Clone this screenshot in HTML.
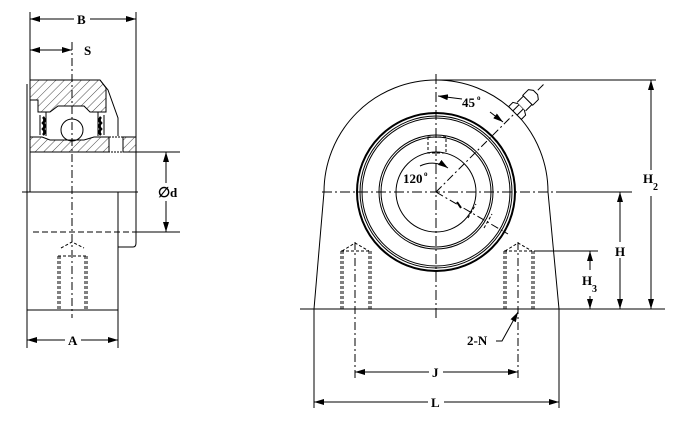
<!DOCTYPE html>
<html><head><style>html,body{margin:0;padding:0;background:#fff}svg{display:block}text{font-family:"Liberation Serif",serif;font-weight:bold;fill:#000}</style></head>
<body>
<svg width="678" height="429" viewBox="0 0 678 429" xmlns="http://www.w3.org/2000/svg">
<defs>
<pattern id="h" width="6" height="6" patternUnits="userSpaceOnUse" patternTransform="rotate(45)"><line x1="0" y1="0" x2="0" y2="6" stroke="#000" stroke-width="0.7"/></pattern>
<marker id="a" viewBox="0 0 10 6" refX="10" refY="3" markerWidth="10" markerHeight="6" orient="auto-start-reverse" markerUnits="userSpaceOnUse"><path d="M0,0L10,3L0,6z" fill="#000"/></marker>
</defs>
<g fill="none" stroke="#000" stroke-width="1">
<!-- LEFT VIEW -->
<line x1="30" y1="12" x2="30" y2="192"/>
<line x1="136" y1="12" x2="136" y2="240"/>
<line x1="30" y1="19" x2="136" y2="19" marker-start="url(#a)" marker-end="url(#a)"/>
<line x1="30" y1="50" x2="72" y2="50" marker-start="url(#a)" marker-end="url(#a)"/>
<line x1="72" y1="42" x2="72" y2="318" stroke-dasharray="8,3,2,3"/>
<path d="M30,80 L100,80 L106,88 L106,112 L90,112 L84,106 L58,106 L50,112 L38,112 L38,100 L30,100 Z" fill="url(#h)"/>
<path d="M100,80 L108,90 L118,118 L118,136"/>
<path d="M30,137 L42,137 L50,140 L60,140 L84,140 L94,137 L109,137 L109,152 L30,152 Z" fill="url(#h)"/>
<path d="M123,137 L136,137 L136,152 L123,152 Z" fill="url(#h)"/>
<rect x="109" y="137" width="14" height="15" stroke-dasharray="2,1"/>
<circle cx="72" cy="130" r="11"/>
<path d="M40,115 L40,135 M46,112 L46,136 M98,112 L98,136 M104,115 L104,135"/>
<path d="M43,117 q3,3 0,6 q3,3 0,6 q3,3 0,6" stroke-width="2.5"/>
<path d="M101,117 q-3,3 0,6 q-3,3 0,6 q-3,3 0,6" stroke-width="2.5"/>
<line x1="27" y1="84" x2="27" y2="192"/>
<line x1="22" y1="192" x2="138" y2="192"/>
<rect x="27" y="192" width="91" height="118"/>
<path d="M118,247 L133,247 Q136,247 136,243 L136,232"/>
<line x1="33" y1="232" x2="136" y2="232" stroke-dasharray="6,3"/>
<line x1="136" y1="152" x2="180" y2="152"/>
<line x1="136" y1="232" x2="180" y2="232"/>
<line x1="166" y1="152" x2="166" y2="232" marker-start="url(#a)" marker-end="url(#a)"/>
<g stroke-dasharray="3,2"><path d="M58,256 L58,310 M60,256 L60,310 M85,256 L85,310 M87,256 L87,310 M58,256 L87,256 M61,248 L72,242 L84,248"/></g>
<line x1="27" y1="310" x2="27" y2="348"/>
<line x1="118" y1="310" x2="118" y2="348"/>
<line x1="27" y1="340" x2="118" y2="340" marker-start="url(#a)" marker-end="url(#a)"/>
<!-- RIGHT VIEW -->
<path d="M314,309 L324,192 A112,112 0 0 1 548,192 L559,309 Z"/>
<line x1="436" y1="80" x2="656" y2="80"/>
<line x1="436" y1="74" x2="436" y2="318" stroke-dasharray="10,3,2,3"/>
<line x1="322" y1="192" x2="560" y2="192" stroke-dasharray="10,3,2,3"/>
<line x1="560" y1="192" x2="632" y2="192"/>
<line x1="300" y1="309" x2="665" y2="309"/>
<circle cx="436" cy="192" r="79" stroke-width="2"/>
<circle cx="436" cy="192" r="76"/>
<circle cx="436" cy="192" r="74"/>
<circle cx="436" cy="192" r="57"/>
<circle cx="436" cy="192" r="55"/>
<circle cx="436" cy="192" r="40"/>
<rect x="428" y="137" width="18" height="16" stroke-dasharray="3,2"/>
<line x1="436" y1="192" x2="545" y2="83" stroke-dasharray="8,3,2,3"/>
<line x1="436" y1="192" x2="508" y2="234" stroke-dasharray="8,3,2,3"/>
<path d="M468,218 L476,204 M484,228 L492,214" stroke-dasharray="3,2"/>
<g transform="translate(515,113) rotate(-45)">
<path d="M0,-9 L6,-9 L9,-4 L9,4 L6,9 L0,9 Z" fill="#fff"/>
<path d="M0,-3 L9,-3 M0,3 L9,3"/>
<path d="M9,-6 L18,-6 L18,6 L9,6" fill="#fff"/>
<path d="M18,-7 L26,-7 L29,-3 L29,3 L26,7 L18,7 Z" fill="#fff"/>
</g>
<path d="M420,166 A28,28 0 0 1 448,168" marker-end="url(#a)"/>
<line x1="457" y1="202" x2="461" y2="208" stroke-width="2"/>
<line x1="462" y1="99" x2="438" y2="96" marker-end="url(#a)"/>
<line x1="490" y1="112" x2="503" y2="122" marker-end="url(#a)"/>
<g stroke-dasharray="3,2"><path d="M341,251 L341,309 M343,251 L343,309 M369,251 L369,309 M371,251 L371,309 M341,251 L371,251 M342,251 L355,243 L369,251"/>
<path d="M504,251 L504,309 M506,251 L506,309 M532,251 L532,309 M534,251 L534,309 M504,251 L534,251 M505,251 L518,243 L532,251"/></g>
<line x1="355" y1="242" x2="355" y2="380" stroke-dasharray="8,3,2,3"/>
<line x1="518" y1="242" x2="518" y2="380" stroke-dasharray="8,3,2,3"/>
<line x1="534" y1="251" x2="598" y2="251"/>
<line x1="590" y1="251" x2="590" y2="309" marker-start="url(#a)" marker-end="url(#a)"/>
<line x1="620" y1="192" x2="620" y2="309" marker-start="url(#a)" marker-end="url(#a)"/>
<line x1="651" y1="80" x2="651" y2="309" marker-start="url(#a)" marker-end="url(#a)"/>
<line x1="355" y1="372" x2="518" y2="372" marker-start="url(#a)" marker-end="url(#a)"/>
<line x1="314" y1="309" x2="314" y2="408"/>
<line x1="559" y1="309" x2="559" y2="408"/>
<line x1="314" y1="402" x2="559" y2="402" marker-start="url(#a)" marker-end="url(#a)"/>
<path d="M496,341 L502,341 L518,312" marker-end="url(#a)"/>
</g>
<g font-size="13">
<rect x="74" y="11" width="16" height="16" fill="#fff"/><text x="77" y="24">B</text>
<text x="84" y="55">S</text>
<rect x="158" y="183" width="24" height="18" fill="#fff"/><text x="158" y="197" font-weight="normal" font-size="14">∅</text><text x="170" y="197">d</text>
<rect x="65" y="333" width="16" height="16" fill="#fff"/><text x="68" y="345">A</text>
<rect x="429" y="364" width="14" height="16" fill="#fff"/><text x="432" y="377">J</text>
<rect x="428" y="394" width="16" height="16" fill="#fff"/><text x="431" y="407">L</text>
<text x="467" y="345">2-N</text>
<rect x="612" y="242" width="16" height="16" fill="#fff"/><text x="615" y="256">H</text>
<rect x="581" y="270" width="20" height="26" fill="#fff"/><text x="582" y="285">H</text><text x="592" y="292" font-size="10">3</text>
<rect x="642" y="170" width="22" height="26" fill="#fff"/><text x="643" y="183">H</text><text x="653" y="190" font-size="10">2</text>
<text x="462" y="107">45</text><text x="477" y="100" font-size="7" font-weight="normal">o</text>
<text x="403" y="183">120</text><text x="424" y="176" font-size="7" font-weight="normal">o</text>
</g>
</svg>
</body></html>
